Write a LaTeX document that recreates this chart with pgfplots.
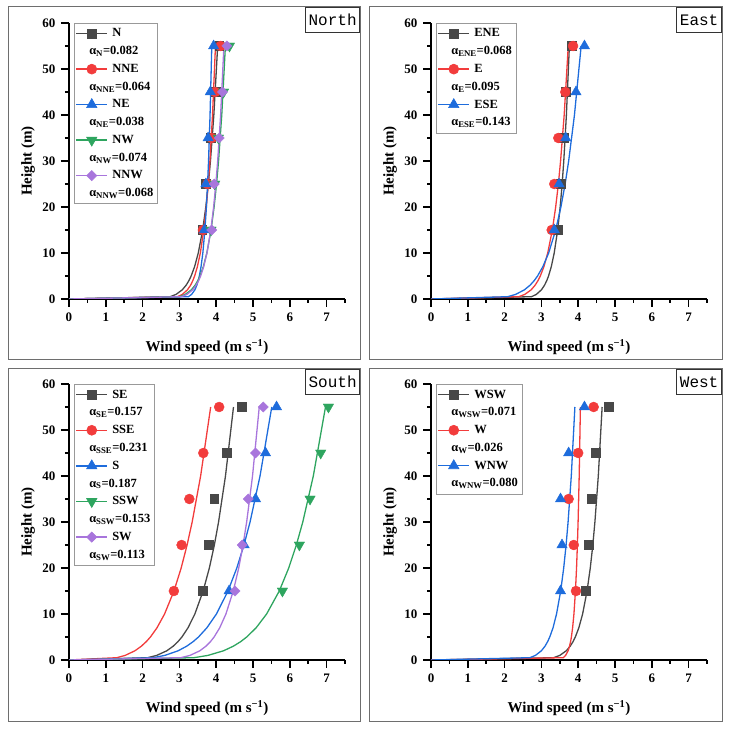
\documentclass[border=0pt]{standalone}
\usepackage{fontspec}
\setmainfont{Liberation Serif}
\newfontfamily\titlefont{Liberation Mono}
\usepackage{pgfplots}
\pgfplotsset{compat=1.18}
\definecolor{cblack}{RGB}{72,72,72}
\definecolor{cred}{RGB}{242,60,60}
\definecolor{cblue}{RGB}{30,108,220}
\definecolor{cgreen}{RGB}{46,165,95}
\definecolor{cpurple}{RGB}{168,117,220}
\definecolor{cframe}{RGB}{110,110,110}
\pgfplotsset{
  panel/.style={
    scale only axis, width=276pt, height=276pt,
    xmin=0, xmax=7.5, ymin=0, ymax=60,
    axis lines=left, axis line style={-, line width=1.5pt, black},
    xtick={0,1,...,7}, ytick={0,10,...,60},
    minor xtick={0.5,1.5,...,7.5}, minor ytick={5,15,...,55},
    tick align=outside, major tick length=8pt, minor tick length=4pt,
    tick style={black, line width=1.5pt},
    tick label style={font=\fontsize{13}{15}\selectfont\bfseries},
    xticklabel style={yshift=-2pt},
    yticklabel style={xshift=-2pt},
    /pgf/number format/assume math mode=true,
    xlabel={Wind speed (m s\textsuperscript{−1})},
    ylabel={Height (m)},
    label style={font=\fontsize{15}{17}\selectfont\bfseries},
    xlabel style={at={(axis description cs:0.5,-0.174)}, anchor=center},
    ylabel style={at={(axis description cs:-0.1486,0.5)}, anchor=center},
    legend style={at={(axis description cs:0.018,1)}, anchor=north west,
      draw=gray!80, line width=0.6pt,
      font=\fontsize{12.5}{14}\selectfont\bfseries,
      inner xsep=2pt, inner ysep=3.5pt, row sep=4pt, column sep=3pt},
    legend cell align=left,
  },
  mk1/.style={color=cblack, mark=square*, mark size=4.3pt},
  mk2/.style={color=cred, mark=*, mark size=5pt},
  mk3/.style={color=cblue, mark=triangle*, mark size=6pt},
  mk4/.style={color=cgreen, mark=triangle*, mark size=6pt, mark options={rotate=180}},
  mk5/.style={color=cpurple, mark=square*, mark size=3.6pt, mark options={rotate=45}},
  crv/.style={no marks, line width=1.3pt, forget plot},
  pts/.style={only marks, forget plot},
  lg/.style={legend image code/.code={%
      \fill[fill=#1, draw=none] (0pt,-0.7pt) rectangle (31pt,0.7pt);
      \path plot coordinates {(15.5pt,0pt)};}},
  lgt/.style={legend image code/.code={}},
}
\begin{document}
\begin{tikzpicture}
\path[use as bounding box] (0pt,0pt) rectangle (730pt,730pt);
\draw[cframe, line width=1pt] (8pt,370pt) rectangle (360pt,723pt);
\draw[cframe, line width=1pt] (369pt,370pt) rectangle (722pt,723pt);
\draw[cframe, line width=1pt] (8pt,8pt) rectangle (360pt,361pt);
\draw[cframe, line width=1pt] (369pt,8pt) rectangle (722pt,361pt);

% ---------------- North ----------------
\begin{axis}[panel, at={(69pt,431pt)}, anchor=south west]
\addplot[pts, mk1] coordinates {(3.62,15)(3.72,25)(3.85,35)(3.98,45)(4.08,55)};
\addplot[crv, color=cblack] coordinates {(0,0)(2.748,0.5)(2.909,1)(3.079,2)(3.183,3)(3.259,4)(3.319,5)(3.412,7)(3.513,10)(3.632,15)(3.718,20)(3.787,25)(3.844,30)(3.936,40)(4.04,55)};
\addplot[pts, mk2] coordinates {(3.64,15)(3.76,25)(3.88,35)(3.97,45)(4.12,55)};
\addplot[crv, color=cred] coordinates {(0,0)(2.946,0.5)(3.080,1)(3.219,2)(3.304,3)(3.365,4)(3.414,5)(3.488,7)(3.569,10)(3.662,15)(3.731,20)(3.784,25)(3.829,30)(3.900,40)(3.98,55)};
\addplot[pts, mk3] coordinates {(3.68,15)(3.72,25)(3.78,35)(3.84,45)(3.93,55)};
\addplot[crv, color=cblue] coordinates {(0,0)(3.245,0.5)(3.332,1)(3.421,2)(3.474,3)(3.512,4)(3.542,5)(3.588,7)(3.637,10)(3.693,15)(3.734,20)(3.765,25)(3.792,30)(3.833,40)(3.88,55)};
\addplot[pts, mk4] coordinates {(3.86,15)(3.96,25)(4.06,35)(4.20,45)(4.36,55)};
\addplot[crv, color=cgreen] coordinates {(0,0)(3.001,0.5)(3.159,1)(3.326,2)(3.427,3)(3.501,4)(3.559,5)(3.649,7)(3.746,10)(3.860,15)(3.943,20)(4.009,25)(4.064,30)(4.151,40)(4.25,55)};
\addplot[pts, mk5] coordinates {(3.88,15)(3.95,25)(4.08,35)(4.17,45)(4.29,55)};
\addplot[crv, color=cpurple] coordinates {(0,0)(3.058,0.5)(3.206,1)(3.361,2)(3.454,3)(3.523,4)(3.577,5)(3.659,7)(3.749,10)(3.854,15)(3.930,20)(3.990,25)(4.040,30)(4.120,40)(4.21,55)};
\addlegendimage{lg=cblack, mk1}\addlegendentry{N}
\addlegendimage{lgt}\addlegendentry{\hspace{-23pt}α\textsubscript{N}=0.082}
\addlegendimage{lg=cred, mk2}\addlegendentry{NNE}
\addlegendimage{lgt}\addlegendentry{\hspace{-23pt}α\textsubscript{NNE}=0.064}
\addlegendimage{lg=cblue, mk3}\addlegendentry{NE}
\addlegendimage{lgt}\addlegendentry{\hspace{-23pt}α\textsubscript{NE}=0.038}
\addlegendimage{lg=cgreen, mk4}\addlegendentry{NW}
\addlegendimage{lgt}\addlegendentry{\hspace{-23pt}α\textsubscript{NW}=0.074}
\addlegendimage{lg=cpurple, mk5}\addlegendentry{NNW}
\addlegendimage{lgt}\addlegendentry{\hspace{-23pt}α\textsubscript{NNW}=0.068}
\end{axis}

% ---------------- East ----------------
\begin{axis}[panel, at={(431pt,431pt)}, anchor=south west]
\addplot[pts, mk1] coordinates {(3.44,15)(3.52,25)(3.60,35)(3.66,45)(3.82,55)};
\addplot[crv, color=cblack] coordinates {(0,0)(2.731,0.5)(2.863,1)(3.001,2)(3.085,3)(3.146,4)(3.194,5)(3.268,7)(3.348,10)(3.442,15)(3.510,20)(3.564,25)(3.608,30)(3.679,40)(3.76,55)};
\addplot[pts, mk2] coordinates {(3.28,15)(3.35,25)(3.46,35)(3.65,45)(3.86,55)};
\addplot[crv, color=cred] coordinates {(0,0)(2.387,0.5)(2.549,1)(2.723,2)(2.829,3)(2.908,4)(2.970,5)(3.067,7)(3.172,10)(3.297,15)(3.388,20)(3.461,25)(3.521,30)(3.619,40)(3.73,55)};
\addplot[pts, mk3] coordinates {(3.35,15)(3.48,25)(3.66,35)(3.94,45)(4.17,55)};
\addplot[crv, color=cblue] coordinates {(0,0)(2.083,0.5)(2.300,1)(2.540,2)(2.692,3)(2.805,4)(2.896,5)(3.038,7)(3.197,10)(3.388,15)(3.530,20)(3.645,25)(3.741,30)(3.898,40)(4.08,55)};
\addlegendimage{lg=cblack, mk1}\addlegendentry{ENE}
\addlegendimage{lgt}\addlegendentry{\hspace{-23pt}α\textsubscript{ENE}=0.068}
\addlegendimage{lg=cred, mk2}\addlegendentry{E}
\addlegendimage{lgt}\addlegendentry{\hspace{-23pt}α\textsubscript{E}=0.095}
\addlegendimage{lg=cblue, mk3}\addlegendentry{ESE}
\addlegendimage{lgt}\addlegendentry{\hspace{-23pt}α\textsubscript{ESE}=0.143}
\end{axis}

% ---------------- South ----------------
\begin{axis}[panel, at={(69pt,70pt)}, anchor=south west]
\addplot[pts, mk1] coordinates {(3.63,15)(3.80,25)(3.95,35)(4.28,45)(4.69,55)};
\addplot[crv, color=cblack] coordinates {(0,0)(2.137,0.5)(2.383,1)(2.657,2)(2.831,3)(2.962,4)(3.068,5)(3.234,7)(3.420,10)(3.645,15)(3.814,20)(3.950,25)(4.064,30)(4.252,40)(4.47,55)};
\addplot[pts, mk2] coordinates {(2.85,15)(3.06,25)(3.27,35)(3.65,45)(4.08,55)};
\addplot[crv, color=cred] coordinates {(0,0)(1.300,0.5)(1.526,1)(1.791,2)(1.966,3)(2.101,4)(2.213,5)(2.391,7)(2.597,10)(2.852,15)(3.048,20)(3.209,25)(3.347,30)(3.577,40)(3.85,55)};
\addplot[pts, mk3] coordinates {(4.35,15)(4.76,25)(5.07,35)(5.34,45)(5.64,55)};
\addplot[crv, color=cblue] coordinates {(0,0)(2.288,0.5)(2.604,1)(2.965,2)(3.198,3)(3.375,4)(3.519,5)(3.747,7)(4.006,10)(4.321,15)(4.560,20)(4.755,25)(4.920,30)(5.191,40)(5.51,55)};
\addplot[pts, mk4] coordinates {(5.80,15)(6.26,25)(6.55,35)(6.84,45)(7.05,55)};
\addplot[crv, color=cgreen] coordinates {(0,0)(3.396,0.5)(3.775,1)(4.198,2)(4.466,3)(4.667,4)(4.829,5)(5.085,7)(5.370,10)(5.714,15)(5.971,20)(6.178,25)(6.353,30)(6.639,40)(6.97,55)};
\addplot[pts, mk5] coordinates {(4.51,15)(4.71,25)(4.87,35)(5.07,45)(5.28,55)};
\addplot[crv, color=cpurple] coordinates {(0,0)(3.040,0.5)(3.287,1)(3.555,2)(3.722,3)(3.845,4)(3.943,5)(4.096,7)(4.264,10)(4.464,15)(4.612,20)(4.729,25)(4.828,30)(4.987,40)(5.17,55)};
\addlegendimage{lg=cblack, mk1}\addlegendentry{SE}
\addlegendimage{lgt}\addlegendentry{\hspace{-23pt}α\textsubscript{SE}=0.157}
\addlegendimage{lg=cred, mk2}\addlegendentry{SSE}
\addlegendimage{lgt}\addlegendentry{\hspace{-23pt}α\textsubscript{SSE}=0.231}
\addlegendimage{lg=cblue, mk3}\addlegendentry{S}
\addlegendimage{lgt}\addlegendentry{\hspace{-23pt}α\textsubscript{S}=0.187}
\addlegendimage{lg=cgreen, mk4}\addlegendentry{SSW}
\addlegendimage{lgt}\addlegendentry{\hspace{-23pt}α\textsubscript{SSW}=0.153}
\addlegendimage{lg=cpurple, mk5}\addlegendentry{SW}
\addlegendimage{lgt}\addlegendentry{\hspace{-23pt}α\textsubscript{SW}=0.113}
\end{axis}

% ---------------- West ----------------
\begin{axis}[panel, at={(431pt,70pt)}, anchor=south west]
\addplot[pts, mk1] coordinates {(4.21,15)(4.29,25)(4.35,35)(4.47,45)(4.83,55)};
\addplot[crv, color=cblack] coordinates {(0,0)(3.331,0.5)(3.499,1)(3.675,2)(3.782,3)(3.860,4)(3.922,5)(4.017,7)(4.120,10)(4.240,15)(4.328,20)(4.397,25)(4.454,30)(4.546,40)(4.65,55)};
\addplot[pts, mk2] coordinates {(3.94,15)(3.88,25)(3.74,35)(4.00,45)(4.42,55)};
\addplot[crv, color=cred] coordinates {(0,0)(3.593,0.5)(3.658,1)(3.725,2)(3.764,3)(3.793,4)(3.815,5)(3.848,7)(3.884,10)(3.925,15)(3.955,20)(3.978,25)(3.997,30)(4.027,40)(4.06,55)};
\addplot[pts, mk3] coordinates {(3.52,15)(3.56,25)(3.52,35)(3.74,45)(4.17,55)};
\addplot[crv, color=cblue] coordinates {(0,0)(2.685,0.5)(2.838,1)(2.999,2)(3.098,3)(3.170,4)(3.227,5)(3.316,7)(3.411,10)(3.524,15)(3.606,20)(3.671,25)(3.725,30)(3.812,40)(3.91,55)};
\addlegendimage{lg=cblack, mk1}\addlegendentry{WSW}
\addlegendimage{lgt}\addlegendentry{\hspace{-23pt}α\textsubscript{WSW}=0.071}
\addlegendimage{lg=cred, mk2}\addlegendentry{W}
\addlegendimage{lgt}\addlegendentry{\hspace{-23pt}α\textsubscript{W}=0.026}
\addlegendimage{lg=cblue, mk3}\addlegendentry{WNW}
\addlegendimage{lgt}\addlegendentry{\hspace{-23pt}α\textsubscript{WNW}=0.080}
\end{axis}

\tikzset{ttl/.style={draw=black!80, line width=0.8pt, fill=white, inner sep=0pt, minimum height=25pt, anchor=north east, font=\titlefont\fontsize{16}{16}\selectfont}}
\node[ttl, minimum width=54pt] at (360pt,723pt) {North};
\node[ttl, minimum width=45pt] at (722pt,723pt) {East};
\node[ttl, minimum width=54pt] at (360pt,361pt) {South};
\node[ttl, minimum width=45pt] at (722pt,361pt) {West};
\end{tikzpicture}
\end{document}
